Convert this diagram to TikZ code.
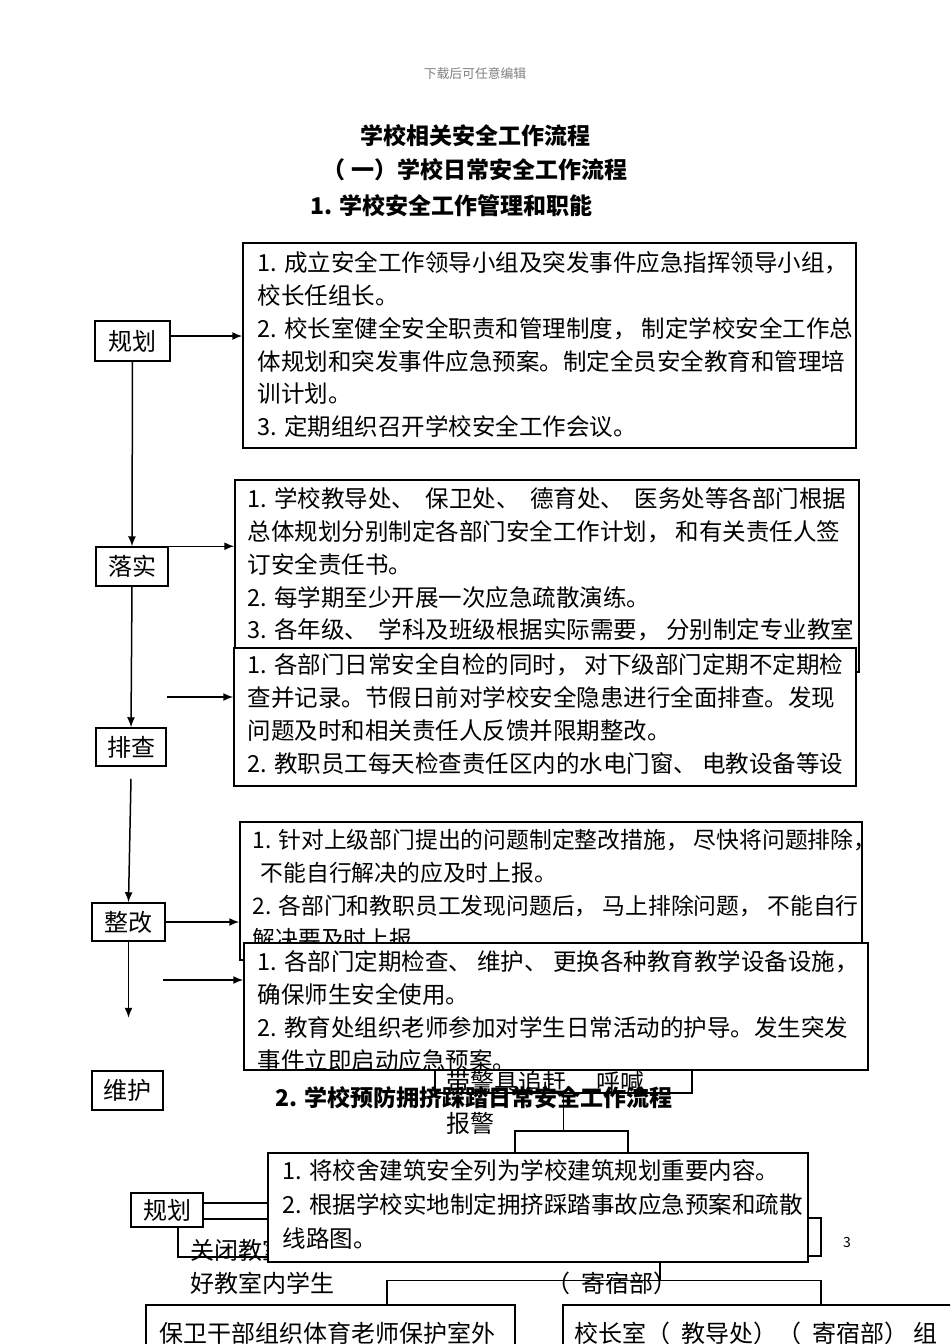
\documentclass[tikz,border=0pt]{standalone}
\usepackage{fontspec}
\setmainfont{Noto Sans CJK SC}
\usetikzlibrary{arrows.meta,calc,fit}

\begin{document}
\begin{tikzpicture}[x=0.5pt, y=-0.5pt,
    kuang/.style={draw, fill=white, line width=0.75pt, inner sep=0pt},
    touming/.style={draw, line width=0.75pt, inner sep=0pt},
    biaoqian/.style={kuang, font=\fontsize{12}{14}\selectfont},
    wenzi/.style={align=left, anchor=north west, inner sep=0pt, font=\fontsize{11.75}{16.4}\selectfont},
    zi/.style={inner sep=0pt, font=\fontsize{12}{14}\selectfont},
    biaoti/.style={inner sep=0pt, font=\fontsize{11.5}{14}\selectfont\bfseries},
    jiantou/.style={-{Latex[length=5pt,width=4pt]}, line width=0.75pt},
    xian/.style={line width=0.75pt}]
    % 页面
    \useasboundingbox (0,0) rectangle (950,1344);
    \fill[white] (0,0) rectangle (950,1344);
    \clip (0,0) rectangle (950,1344);

    % 标题
    \node[gray, inner sep=0pt, font=\fontsize{6.4}{8}\selectfont] (yemei) at (475,74) {下载后可任意编辑};
    \node[biaoti] (bt1) at (475,136) {学校相关安全工作流程};
    \node[biaoti] (bt2) at (475,170) {（ 一）学校日常安全工作流程};
    \node[biaoti, anchor=west] (bt3) at (310,206) {1. 学校安全工作管理和职能};

    % 规划
    \node[kuang, fit={(243,243) (856,448)}] (b1) {};
    \begin{scope}
        \clip (b1.south west) rectangle (b1.north east);
        \node[wenzi] (t1) at ($(b1.north west)+(15,9)$) {1. 成立安全工作领导小组及突发事件应急指挥领导小组，\\
        校长任组长。\\
        2. 校长室健全安全职责和管理制度， 制定学校安全工作总\\
        体规划和突发事件应急预案。制定全员安全教育和管理培\\
        训计划。\\
        3. 定期组织召开学校安全工作会议。};
    \end{scope}
    \node[biaoqian, minimum width=37.5pt, minimum height=20pt] (gh1) at (132.5,341) {规划};
    \draw[jiantou] ([yshift=2.5pt]gh1.east) -- ([yshift=2.5pt]gh1.east -| b1.west);

    % 落实
    \node[kuang, fit={(235,480) (859,672)}] (b2) {};
    \begin{scope}
        \clip (b2.south west) rectangle (b2.north east);
        \node[wenzi] (t2) at ($(b2.north west)+(13,8)$) {1. 学校教导处、 \ 保卫处、 \ 德育处、 \ 医务处等各部门根据\\
        总体规划分别制定各部门安全工作计划， 和有关责任人签\\
        订安全责任书。\\
        2. 每学期至少开展一次应急疏散演练。\\
        3. 各年级、 \ 学科及班级根据实际需要， 分别制定专业教室};
    \end{scope}
    \node[biaoqian, minimum width=36pt, minimum height=19.5pt] (ls) at (132,566.5) {落实};
    \draw[jiantou] (gh1.south) -- (ls.north);
    \draw[jiantou] (ls.north east) -- (ls.north east -| b2.west);

    % 排查
    \node[kuang, fit={(234,648) (856,786)}] (b3) {};
    \begin{scope}
        \clip (b3.south west) rectangle (b3.north east);
        \node[wenzi] (t3) at ($(b3.north west)+(14,6)$) {1. 各部门日常安全自检的同时， 对下级部门定期不定期检\\
        查并记录。节假日前对学校安全隐患进行全面排查。发现\\
        问题及时和相关责任人反馈并限期整改。\\
        2. 教职员工每天检查责任区内的水电门窗、 电教设备等设};
    \end{scope}
    \node[biaoqian, minimum width=35pt, minimum height=19pt] (pc) at (131,747) {排查};
    \draw[jiantou] (ls.south) -- (pc.north);
    \coordinate (p3) at (167,697);
    \draw[jiantou] (p3) -- (p3 -| b3.west);

    % 整改
    \node[kuang, fit={(240,822) (862,960)}] (b4) {};
    \begin{scope}
        \clip (b4.south west) rectangle (b4.north east);
        \node[wenzi, font=\fontsize{11.4}{16.4}\selectfont] (t4) at ($(b4.north west)+(13,8)$) {1. 针对上级部门提出的问题制定整改措施， 尽快将问题排除，\\
        \hspace*{4pt}不能自行解决的应及时上报。\\
        2. 各部门和教职员工发现问题后， 马上排除问题， 不能自行\\
        解决要及时上报};
    \end{scope}
    \node[biaoqian, minimum width=36.5pt, minimum height=19pt] (zg) at (128.5,922) {整改};
    \draw[jiantou] ([yshift=-6pt]pc.south) -- (zg.north);
    \draw[jiantou] (zg.east) -- (zg.east -| b4.west);

    % 维护
    \node[touming, fit={(435,1030) (692,1093)}] (b6) {};
    \begin{scope}
        \clip (b6.south west) rectangle (b6.north east);
        \node[zi, anchor=west] (t6) at ($(b6.south west)+(12,-11)$) {带警具追赶、 呼喊};
    \end{scope}
    \node[kuang, fit={(244,943) (868,1070)}] (b5) {};
    \begin{scope}
        \clip (b5.south west) rectangle (b5.north east);
        \node[wenzi] (t5) at ($(b5.north west)+(14,8)$) {1. 各部门定期检查、 维护、 更换各种教育教学设备设施，\\
        确保师生安全使用。\\
        2. 教育处组织老师参加对学生日常活动的护导。发生突发\\
        事件立即启动应急预案。};
    \end{scope}
    \coordinate (p5) at (163,980);
    \draw[jiantou] (p5) -- (p5 -| b5.west);
    \draw[jiantou] (zg.south) -- ++(0,76);
    \node[biaoqian, minimum width=35.5pt, minimum height=19.5pt] (wh) at (127.5,1090.5) {维护};

    % 拥挤踩踏
    \node[biaoti] (bt4) at (474,1098) {2. 学校预防拥挤踩踏日常安全工作流程};
    \node[zi] (bj) at (470,1123) {报警};
    \node[kuang, fit={(515,1131) (628,1180)}] (sb1) {};
    \draw[xian] (b6.south) -- (b6.south |- sb1.north);
    \node[kuang, fit={(700,1218) (821,1256)}] (sb2) {};
    \node[zi, anchor=west] (gb) at (190,1250) {关闭教室};
    \node[kuang, fit={(268,1153) (808,1262)}] (b7) {};
    \begin{scope}
        \clip (b7.south west) rectangle (b7.north east);
        \node[wenzi, font=\fontsize{11.75}{16.9}\selectfont] (t7) at ($(b7.north west)+(15,7)$) {1. 将校舍建筑安全列为学校建筑规划重要内容。\\
        2. 根据学校实地制定拥挤踩踏事故应急预案和疏散\\
        线路图。};
    \end{scope}
    \node[biaoqian, minimum width=36pt, minimum height=17pt] (gh2) at (167,1210) {规划};
    \draw[xian] ([yshift=3.5pt]gh2.east) -- ([yshift=3.5pt]gh2.east -| b7.west);
    \draw[xian] ([yshift=-4.5pt]gh2.east) -- ([yshift=-4.5pt]gh2.east -| b7.west);
    \draw[xian] ([xshift=5.5pt]gh2.south) |- ([yshift=3pt]b7.south west);

    \node[zi, anchor=west] (hj) at (190,1283) {好教室内学生};
    \node[zi] (jsb) at (612,1283) {（ \ 寄宿部）};
    \node[inner sep=0pt, font=\fontsize{7}{8}\selectfont] (ym) at (847,1242) {3};

    \node[kuang, fit={(146,1305) (515,1400)}] (bl) {};
    \node[kuang, fit={(563,1305) (980,1400)}] (br) {};
    \node[zi, anchor=west] (tbl) at ($(bl.north west)+(14,29)$) {保卫干部组织体育老师保护室外};
    \node[zi, anchor=west] (tbr) at ($(br.north west)+(12,29)$) {校长室（ \ 教导处）（ \ 寄宿部） 组};
    \coordinate (fz) at (660,1281);
    \draw[xian] (b7.south -| fz) -- (fz);
    \draw[xian] ([xshift=28.25pt]bl.north) -- ++(0,-24) -| ([xshift=24.75pt]br.north);
\end{tikzpicture}
\end{document}
